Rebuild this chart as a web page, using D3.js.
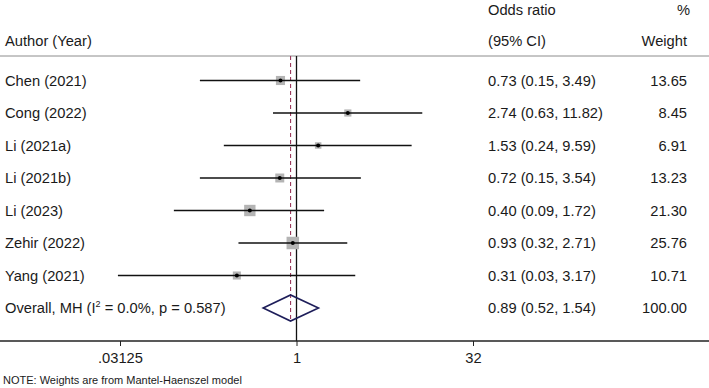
<!DOCTYPE html>
<html>
<head>
<meta charset="utf-8">
<script src="https://cdn.jsdelivr.net/npm/d3@7"></script>
<style>
  body { margin: 0; background: #fff; }
  svg text { font-family: "Liberation Sans", Arial, sans-serif; fill: #1a1a1a; }
</style>
</head>
<body>
<div id="chart"></div>
<script>
// study rows
const studies = ["Chen (2021)", "Cong (2022)", "Li (2021a)", "Li (2021b)", "Li (2023)", "Zehir (2022)", "Yang (2021)"]
const oddsRatio = [0.73, 2.74, 1.53, 0.72, 0.40, 0.93, 0.31]
const lowerCI = [0.15, 0.63, 0.24, 0.15, 0.09, 0.32, 0.03]
const upperCI = [3.49, 11.82, 9.59, 3.54, 1.72, 2.71, 3.17]
const weights = [13.65, 8.45, 6.91, 13.23, 21.30, 25.76, 10.71]

// pooled estimate
const overall = {label: "Overall, MH", or: 0.89, lo: 0.52, hi: 1.54, weight: 100.00, i2: "0.0%", p: "0.587"}

const tickValues = [0.03125, 1, 32]
const tickLabels = [".03125", "1", "32"]

//---------------- dimensions
const dims = {
    width: 709,
    height: 388,
    headerLine: 56,
    firstRow: 80.5,
    rowStep: 32.5,
    axisY: 341
}
const fontSize = "14.7px"

const svg = d3.select("#chart")
    .append("svg")
    .attr("width", dims.width)
    .attr("height", dims.height)

//---------------- scales
const xScale = d3.scaleLog()
    .base(2)
    .domain([1 / 32, 32])
    .range([120, 473])

const rowNames = studies.concat([overall.label])
const yScale = d3.scalePoint()
    .domain(rowNames)
    .range([dims.firstRow, dims.firstRow + dims.rowStep * (rowNames.length - 1)])

const boxScale = d3.scaleSqrt()
    .domain([0, d3.max(weights)])
    .range([0, 12.5])

const fmt = d3.format(".2f")

//---------------- header
const header = svg.append("g").attr("font-size", fontSize)
header.append("text").attr("x", 5).attr("y", 46).text("Author (Year)")
header.append("text").attr("x", 488).attr("y", 15).text("Odds ratio")
header.append("text").attr("x", 488).attr("y", 46).text("(95% CI)")
header.append("text").attr("x", 690).attr("y", 15).attr("text-anchor", "end").text("%")
header.append("text").attr("x", 687).attr("y", 46).attr("text-anchor", "end").text("Weight")

svg.append("line")
    .attr("x1", 0).attr("x2", dims.width)
    .attr("y1", dims.headerLine).attr("y2", dims.headerLine)
    .attr("stroke", "#8c8c8c").attr("stroke-width", 1)

//---------------- reference lines
const diamondHalf = 13
svg.append("line")
    .attr("x1", xScale(1)).attr("x2", xScale(1))
    .attr("y1", dims.headerLine).attr("y2", dims.axisY)
    .attr("stroke", "#111").attr("stroke-width", 1.3)

svg.append("line")
    .attr("x1", xScale(overall.or)).attr("x2", xScale(overall.or))
    .attr("y1", dims.headerLine).attr("y2", yScale(overall.label) + diamondHalf + 1)
    .attr("stroke", "#9c3a5c").attr("stroke-width", 1.1)
    .attr("stroke-dasharray", "4,3")

//---------------- study rows
const rows = studies.map((s, i) => ({
    name: s, or: oddsRatio[i], lo: lowerCI[i], hi: upperCI[i], w: weights[i]
}))

const rowG = svg.selectAll(".row")
    .data(rows)
    .join("g")
    .attr("class", "row")

rowG.append("rect")
    .attr("x", d => xScale(d.or) - boxScale(d.w) / 2)
    .attr("y", d => yScale(d.name) - boxScale(d.w) / 2)
    .attr("width", d => boxScale(d.w))
    .attr("height", d => boxScale(d.w))
    .attr("fill", "#b4b4b4")

rowG.append("line")
    .attr("x1", d => xScale(d.lo))
    .attr("x2", d => xScale(d.hi))
    .attr("y1", d => yScale(d.name))
    .attr("y2", d => yScale(d.name))
    .attr("stroke", "#111").attr("stroke-width", 1.5)

rowG.append("circle")
    .attr("cx", d => xScale(d.or))
    .attr("cy", d => yScale(d.name))
    .attr("r", 2)
    .attr("fill", "#000")

rowG.append("text")
    .attr("x", 5)
    .attr("y", d => yScale(d.name) + 5)
    .attr("font-size", fontSize)
    .text(d => d.name)

rowG.append("text")
    .attr("x", 488)
    .attr("y", d => yScale(d.name) + 5)
    .attr("font-size", fontSize)
    .text(d => `${fmt(d.or)} (${fmt(d.lo)}, ${fmt(d.hi)})`)

rowG.append("text")
    .attr("x", 687)
    .attr("y", d => yScale(d.name) + 5)
    .attr("text-anchor", "end")
    .attr("font-size", fontSize)
    .text(d => fmt(d.w))

//---------------- overall diamond
const oy = yScale(overall.label)
svg.append("path")
    .attr("d", `M${xScale(overall.lo)},${oy}L${xScale(overall.or)},${oy - diamondHalf}L${xScale(overall.hi)},${oy}L${xScale(overall.or)},${oy + diamondHalf}Z`)
    .attr("fill", "none")
    .attr("stroke", "#1e1e5a")
    .attr("stroke-width", 1.6)

const ovText = svg.append("text")
    .attr("x", 5).attr("y", oy + 5)
    .attr("font-size", fontSize)
ovText.append("tspan").text(`${overall.label} (I`)
ovText.append("tspan").attr("font-size", "9px").attr("dy", -6).text("2")
ovText.append("tspan").attr("dy", 6).text(` = ${overall.i2}, p = ${overall.p})`)

svg.append("text")
    .attr("x", 488).attr("y", oy + 5)
    .attr("font-size", fontSize)
    .text(`${fmt(overall.or)} (${fmt(overall.lo)}, ${fmt(overall.hi)})`)

svg.append("text")
    .attr("x", 687).attr("y", oy + 5)
    .attr("text-anchor", "end")
    .attr("font-size", fontSize)
    .text(fmt(overall.weight))

//---------------- axis
const xAxisGenerator = d3.axisBottom(xScale)
    .tickValues(tickValues)
    .tickFormat((d, i) => tickLabels[i])
    .tickSize(5)
    .tickSizeOuter(0)

const xAxis = svg.append("g")
    .attr("transform", `translate(0,${dims.axisY})`)
    .call(xAxisGenerator)

xAxis.select(".domain").attr("d", `M0,0H${dims.width}`).attr("stroke", "#222").attr("stroke-width", 1.3)
xAxis.selectAll(".tick line").attr("stroke", "#222")
xAxis.selectAll(".tick text")
    .attr("font-size", fontSize)
    .attr("font-family", "Liberation Sans, Arial, sans-serif")
    .attr("fill", "#1a1a1a")
    .attr("dy", "0.95em")

//---------------- note
svg.append("text")
    .attr("x", 3).attr("y", 384)
    .attr("font-size", "11px")
    .text("NOTE: Weights are from Mantel-Haenszel model")
</script>
</body>
</html>
